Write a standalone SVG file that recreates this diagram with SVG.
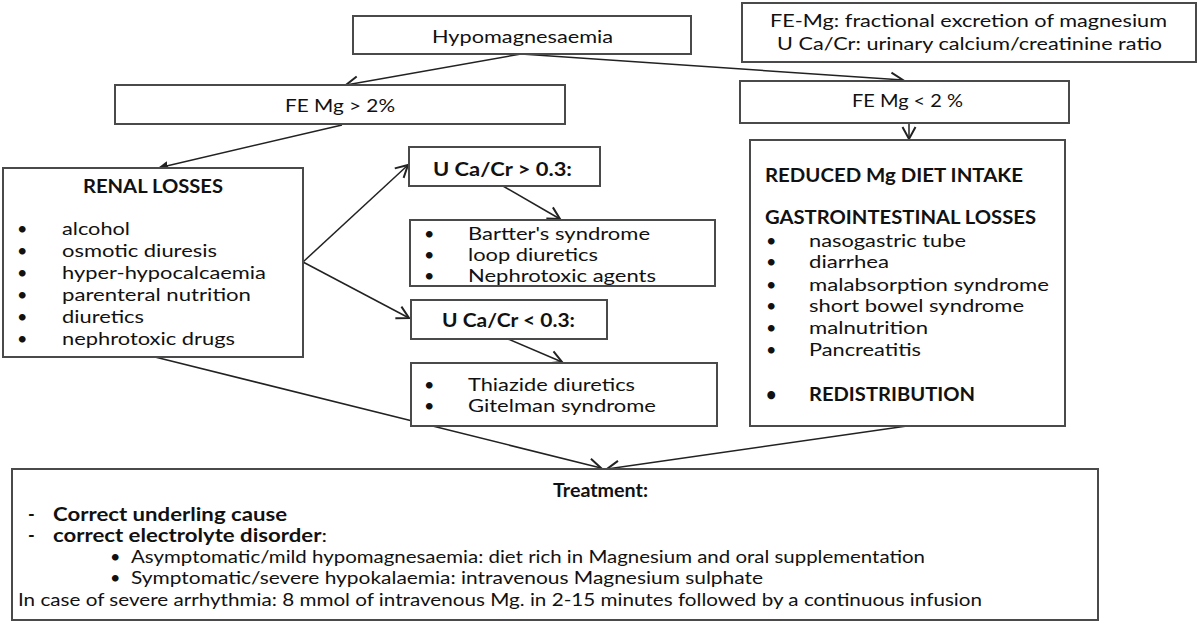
<svg xmlns="http://www.w3.org/2000/svg" width="1199" height="623" viewBox="0 0 1199 623">
<style>
text{font-family:Lato,"Open Sans","Liberation Sans",sans-serif;font-size:18px;fill:#111}
.b{font-weight:bold}
.box{fill:#fff;stroke:#4a4a4a;stroke-width:2}
.c{fill:none;stroke:#222;stroke-width:1.5}
</style>
<defs>
<marker id="open" markerUnits="userSpaceOnUse" markerWidth="16" markerHeight="16" refX="13" refY="7" orient="auto" viewBox="0 0 16 14">
<path d="M1,0.5 L13,7 L1,13.5" fill="none" stroke="#222" stroke-width="2"/>
</marker>
<marker id="fill" markerUnits="userSpaceOnUse" markerWidth="11" markerHeight="9" refX="10" refY="4.5" orient="auto" viewBox="0 0 11 9">
<path d="M0,0 L10,4.5 L0,9 Z" fill="#222"/>
</marker>
</defs>
<rect width="1199" height="623" fill="#fff"/>

<g id="connectors">
<line class="c" x1="521" y1="54" x2="346" y2="85" marker-end="url(#open)"/>
<line class="c" x1="521" y1="54" x2="903" y2="80" marker-end="url(#open)"/>
<line class="c" x1="342" y1="125" x2="158" y2="168" marker-end="url(#fill)"/>
<line class="c" x1="909" y1="123" x2="909" y2="139" marker-end="url(#open)"/>
<line class="c" x1="303" y1="262" x2="408" y2="165" marker-end="url(#open)"/>
<line class="c" x1="303" y1="262" x2="409" y2="318" marker-end="url(#open)"/>
<line class="c" x1="503" y1="186" x2="560" y2="219" marker-end="url(#open)"/>
<line class="c" x1="508" y1="339" x2="562" y2="362" marker-end="url(#open)"/>
<line class="c" x1="155" y1="357" x2="601" y2="468" marker-end="url(#open)"/>
<line class="c" x1="907" y1="426" x2="607" y2="469" marker-end="url(#open)"/>
</g>

<g id="hypomagnesaemia">
<rect class="box" x="353" y="16" width="338" height="38"/>
<text x="432" y="43" textLength="181" lengthAdjust="spacingAndGlyphs">Hypomagnesaemia</text>
</g>

<g id="legend">
<rect class="box" x="742" y="3" width="454" height="59"/>
<text x="770" y="27" textLength="397" lengthAdjust="spacingAndGlyphs">FE-Mg: fractional excretion of magnesium</text>
<text x="777" y="50" textLength="385" lengthAdjust="spacingAndGlyphs">U Ca/Cr: urinary calcium/creatinine ratio</text>
</g>

<g id="fe-high">
<rect class="box" x="115" y="85" width="450" height="39"/>
<text x="285" y="112" textLength="110" lengthAdjust="spacingAndGlyphs">FE Mg &gt; 2%</text>
</g>

<g id="fe-low">
<rect class="box" x="740" y="81" width="329" height="42"/>
<text x="852" y="107" textLength="111" lengthAdjust="spacingAndGlyphs">FE Mg &lt; 2 %</text>
</g>

<g id="renal">
<rect class="box" x="3" y="168" width="300" height="189"/>
<text class="b" x="83" y="193" textLength="140" lengthAdjust="spacingAndGlyphs">RENAL LOSSES</text>
<text x="17" y="235">•</text><text x="62" y="235" textLength="68" lengthAdjust="spacingAndGlyphs">alcohol</text>
<text x="17" y="257">•</text><text x="62" y="257" textLength="155" lengthAdjust="spacingAndGlyphs">osmotic diuresis</text>
<text x="17" y="279">•</text><text x="62" y="279" textLength="204" lengthAdjust="spacingAndGlyphs">hyper-hypocalcaemia</text>
<text x="17" y="301">•</text><text x="62" y="301" textLength="189" lengthAdjust="spacingAndGlyphs">parenteral nutrition</text>
<text x="17" y="323">•</text><text x="62" y="323" textLength="82" lengthAdjust="spacingAndGlyphs">diuretics</text>
<text x="17" y="345">•</text><text x="62" y="345" textLength="173" lengthAdjust="spacingAndGlyphs">nephrotoxic drugs</text>
</g>

<g id="uca-high">
<rect class="box" x="409" y="147" width="191" height="39"/>
<text class="b" x="433" y="176" textLength="139" lengthAdjust="spacingAndGlyphs">U Ca/Cr &gt; 0.3:</text>
</g>

<g id="bartter">
<rect class="box" x="410" y="220" width="305" height="66"/>
<text x="424" y="240">•</text><text x="468" y="240" textLength="182" lengthAdjust="spacingAndGlyphs">Bartter's syndrome</text>
<text x="424" y="261">•</text><text x="468" y="261" textLength="130" lengthAdjust="spacingAndGlyphs">loop diuretics</text>
<text x="424" y="282">•</text><text x="468" y="282" textLength="188" lengthAdjust="spacingAndGlyphs">Nephrotoxic agents</text>
</g>

<g id="uca-low">
<rect class="box" x="411" y="300" width="196" height="39"/>
<text class="b" x="442" y="327" textLength="133" lengthAdjust="spacingAndGlyphs">U Ca/Cr &lt; 0.3:</text>
</g>

<g id="thiazide">
<rect class="box" x="411" y="363" width="306" height="63"/>
<text x="424" y="391">•</text><text x="468" y="391" textLength="167" lengthAdjust="spacingAndGlyphs">Thiazide diuretics</text>
<text x="424" y="412">•</text><text x="468" y="412" textLength="188" lengthAdjust="spacingAndGlyphs">Gitelman syndrome</text>
</g>

<g id="gastro">
<rect class="box" x="750" y="140" width="315" height="286"/>
<text class="b" x="765" y="182" textLength="258" lengthAdjust="spacingAndGlyphs">REDUCED Mg DIET INTAKE</text>
<text class="b" x="765" y="224" textLength="271" lengthAdjust="spacingAndGlyphs">GASTROINTESTINAL LOSSES</text>
<text x="766" y="247">•</text><text x="809" y="247" textLength="157" lengthAdjust="spacingAndGlyphs">nasogastric tube</text>
<text x="766" y="268">•</text><text x="809" y="268" textLength="80" lengthAdjust="spacingAndGlyphs">diarrhea</text>
<text x="766" y="291">•</text><text x="809" y="291" textLength="240" lengthAdjust="spacingAndGlyphs">malabsorption syndrome</text>
<text x="766" y="312">•</text><text x="809" y="312" textLength="215" lengthAdjust="spacingAndGlyphs">short bowel syndrome</text>
<text x="766" y="334">•</text><text x="809" y="334" textLength="119" lengthAdjust="spacingAndGlyphs">malnutrition</text>
<text x="766" y="356">•</text><text x="809" y="356" textLength="112" lengthAdjust="spacingAndGlyphs">Pancreatitis</text>
<text class="b" x="766" y="401">•</text><text class="b" x="809" y="401" textLength="166" lengthAdjust="spacingAndGlyphs">REDISTRIBUTION</text>
</g>

<g id="treatment">
<rect class="box" x="12" y="469" width="1086" height="151"/>
<text class="b" x="553" y="497" textLength="95" lengthAdjust="spacingAndGlyphs">Treatment:</text>
<text class="b" x="28" y="521">-</text>
<text class="b" x="53" y="521" textLength="234" lengthAdjust="spacingAndGlyphs">Correct underling cause</text>
<text class="b" x="28" y="542">-</text>
<text x="53" y="542" textLength="274" lengthAdjust="spacingAndGlyphs"><tspan class="b">correct electrolyte disorder</tspan>:</text>
<text x="110" y="563">•</text>
<text x="131" y="563" textLength="794" lengthAdjust="spacingAndGlyphs">Asymptomatic/mild hypomagnesaemia: diet rich in Magnesium and oral supplementation</text>
<text x="110" y="584">•</text>
<text x="131" y="584" textLength="632" lengthAdjust="spacingAndGlyphs">Symptomatic/severe hypokalaemia: intravenous Magnesium sulphate</text>
<text x="18" y="606" textLength="964" lengthAdjust="spacingAndGlyphs">In case of severe arrhythmia: 8 mmol of intravenous Mg. in 2-15 minutes followed by a continuous infusion</text>
</g>
</svg>
